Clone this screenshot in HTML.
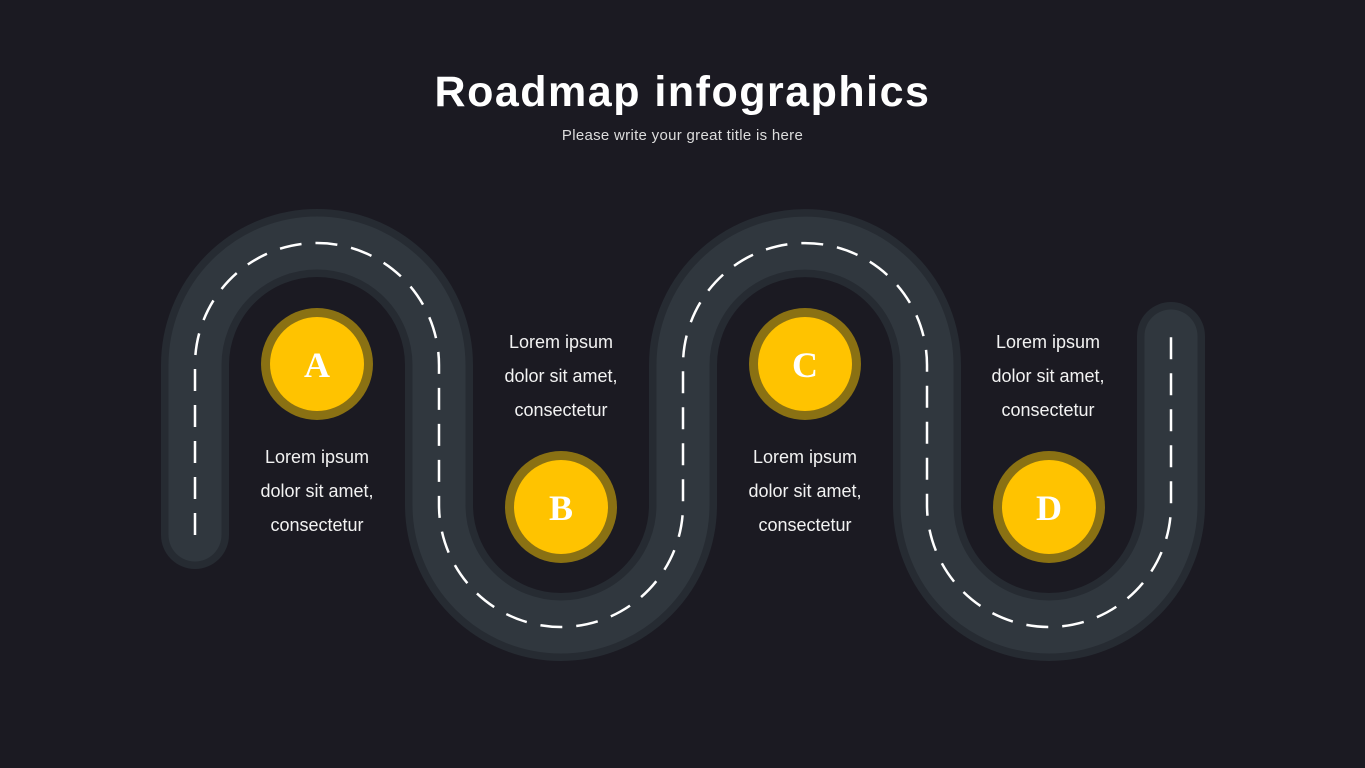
<!DOCTYPE html>
<html><head><meta charset="utf-8"><style>
html,body{margin:0;padding:0;background:#1b1a22;}
body{width:1365px;height:768px;position:relative;overflow:hidden;font-family:"Liberation Sans",sans-serif;}
.t{position:absolute;left:0;width:1365px;text-align:center;color:#fff;}
.txt{position:absolute;width:200px;text-align:center;color:#f2f2f2;font-size:18px;line-height:34px;font-weight:300;}
</style></head><body>
<div class="t" style="top:68px;font-size:43px;font-weight:bold;letter-spacing:1.5px;">Roadmap infographics</div>
<div class="t" style="top:127px;font-size:15px;color:#ddd;letter-spacing:0.3px;">Please write your great title is here</div>
<svg width="1365" height="768" style="position:absolute;left:0;top:0">
<path d="M195 535 V365 A122 122 0 0 1 439 365 V505 A122 122 0 0 0 683 505 V365 A122 122 0 0 1 927 365 V505 A122 122 0 0 0 1171 505 V336" fill="none" stroke="#262b32" stroke-width="68" stroke-linecap="round"/>
<path d="M195 535 V365 A122 122 0 0 1 439 365 V505 A122 122 0 0 0 683 505 V365 A122 122 0 0 1 927 365 V505 A122 122 0 0 0 1171 505 V336" fill="none" stroke="#30373e" stroke-width="53" stroke-linecap="round"/>
<path d="M195 535 V365 A122 122 0 0 1 439 365 V505 A122 122 0 0 0 683 505 V365 A122 122 0 0 1 927 365 V505 A122 122 0 0 0 1171 505 V336" fill="none" stroke="#fff" stroke-width="2.5" stroke-dasharray="22 14"/>
<g font-family="Liberation Serif,serif" font-weight="bold" font-size="36" fill="#fff" text-anchor="middle">
<circle cx="317" cy="364" r="56" fill="#8a7113"/><circle cx="317" cy="364" r="47" fill="#ffc300"/><text x="317" y="377">A</text>
<circle cx="561" cy="507" r="56" fill="#8a7113"/><circle cx="561" cy="507" r="47" fill="#ffc300"/><text x="561" y="520">B</text>
<circle cx="805" cy="364" r="56" fill="#8a7113"/><circle cx="805" cy="364" r="47" fill="#ffc300"/><text x="805" y="377">C</text>
<circle cx="1049" cy="507" r="56" fill="#8a7113"/><circle cx="1049" cy="507" r="47" fill="#ffc300"/><text x="1049" y="520">D</text>
</g>
</svg>
<div class="txt" style="left:217px;top:440px">Lorem ipsum<br>dolor sit amet,<br>consectetur</div>
<div class="txt" style="left:461px;top:325px">Lorem ipsum<br>dolor sit amet,<br>consectetur</div>
<div class="txt" style="left:705px;top:440px">Lorem ipsum<br>dolor sit amet,<br>consectetur</div>
<div class="txt" style="left:948px;top:325px">Lorem ipsum<br>dolor sit amet,<br>consectetur</div>
</body></html>
